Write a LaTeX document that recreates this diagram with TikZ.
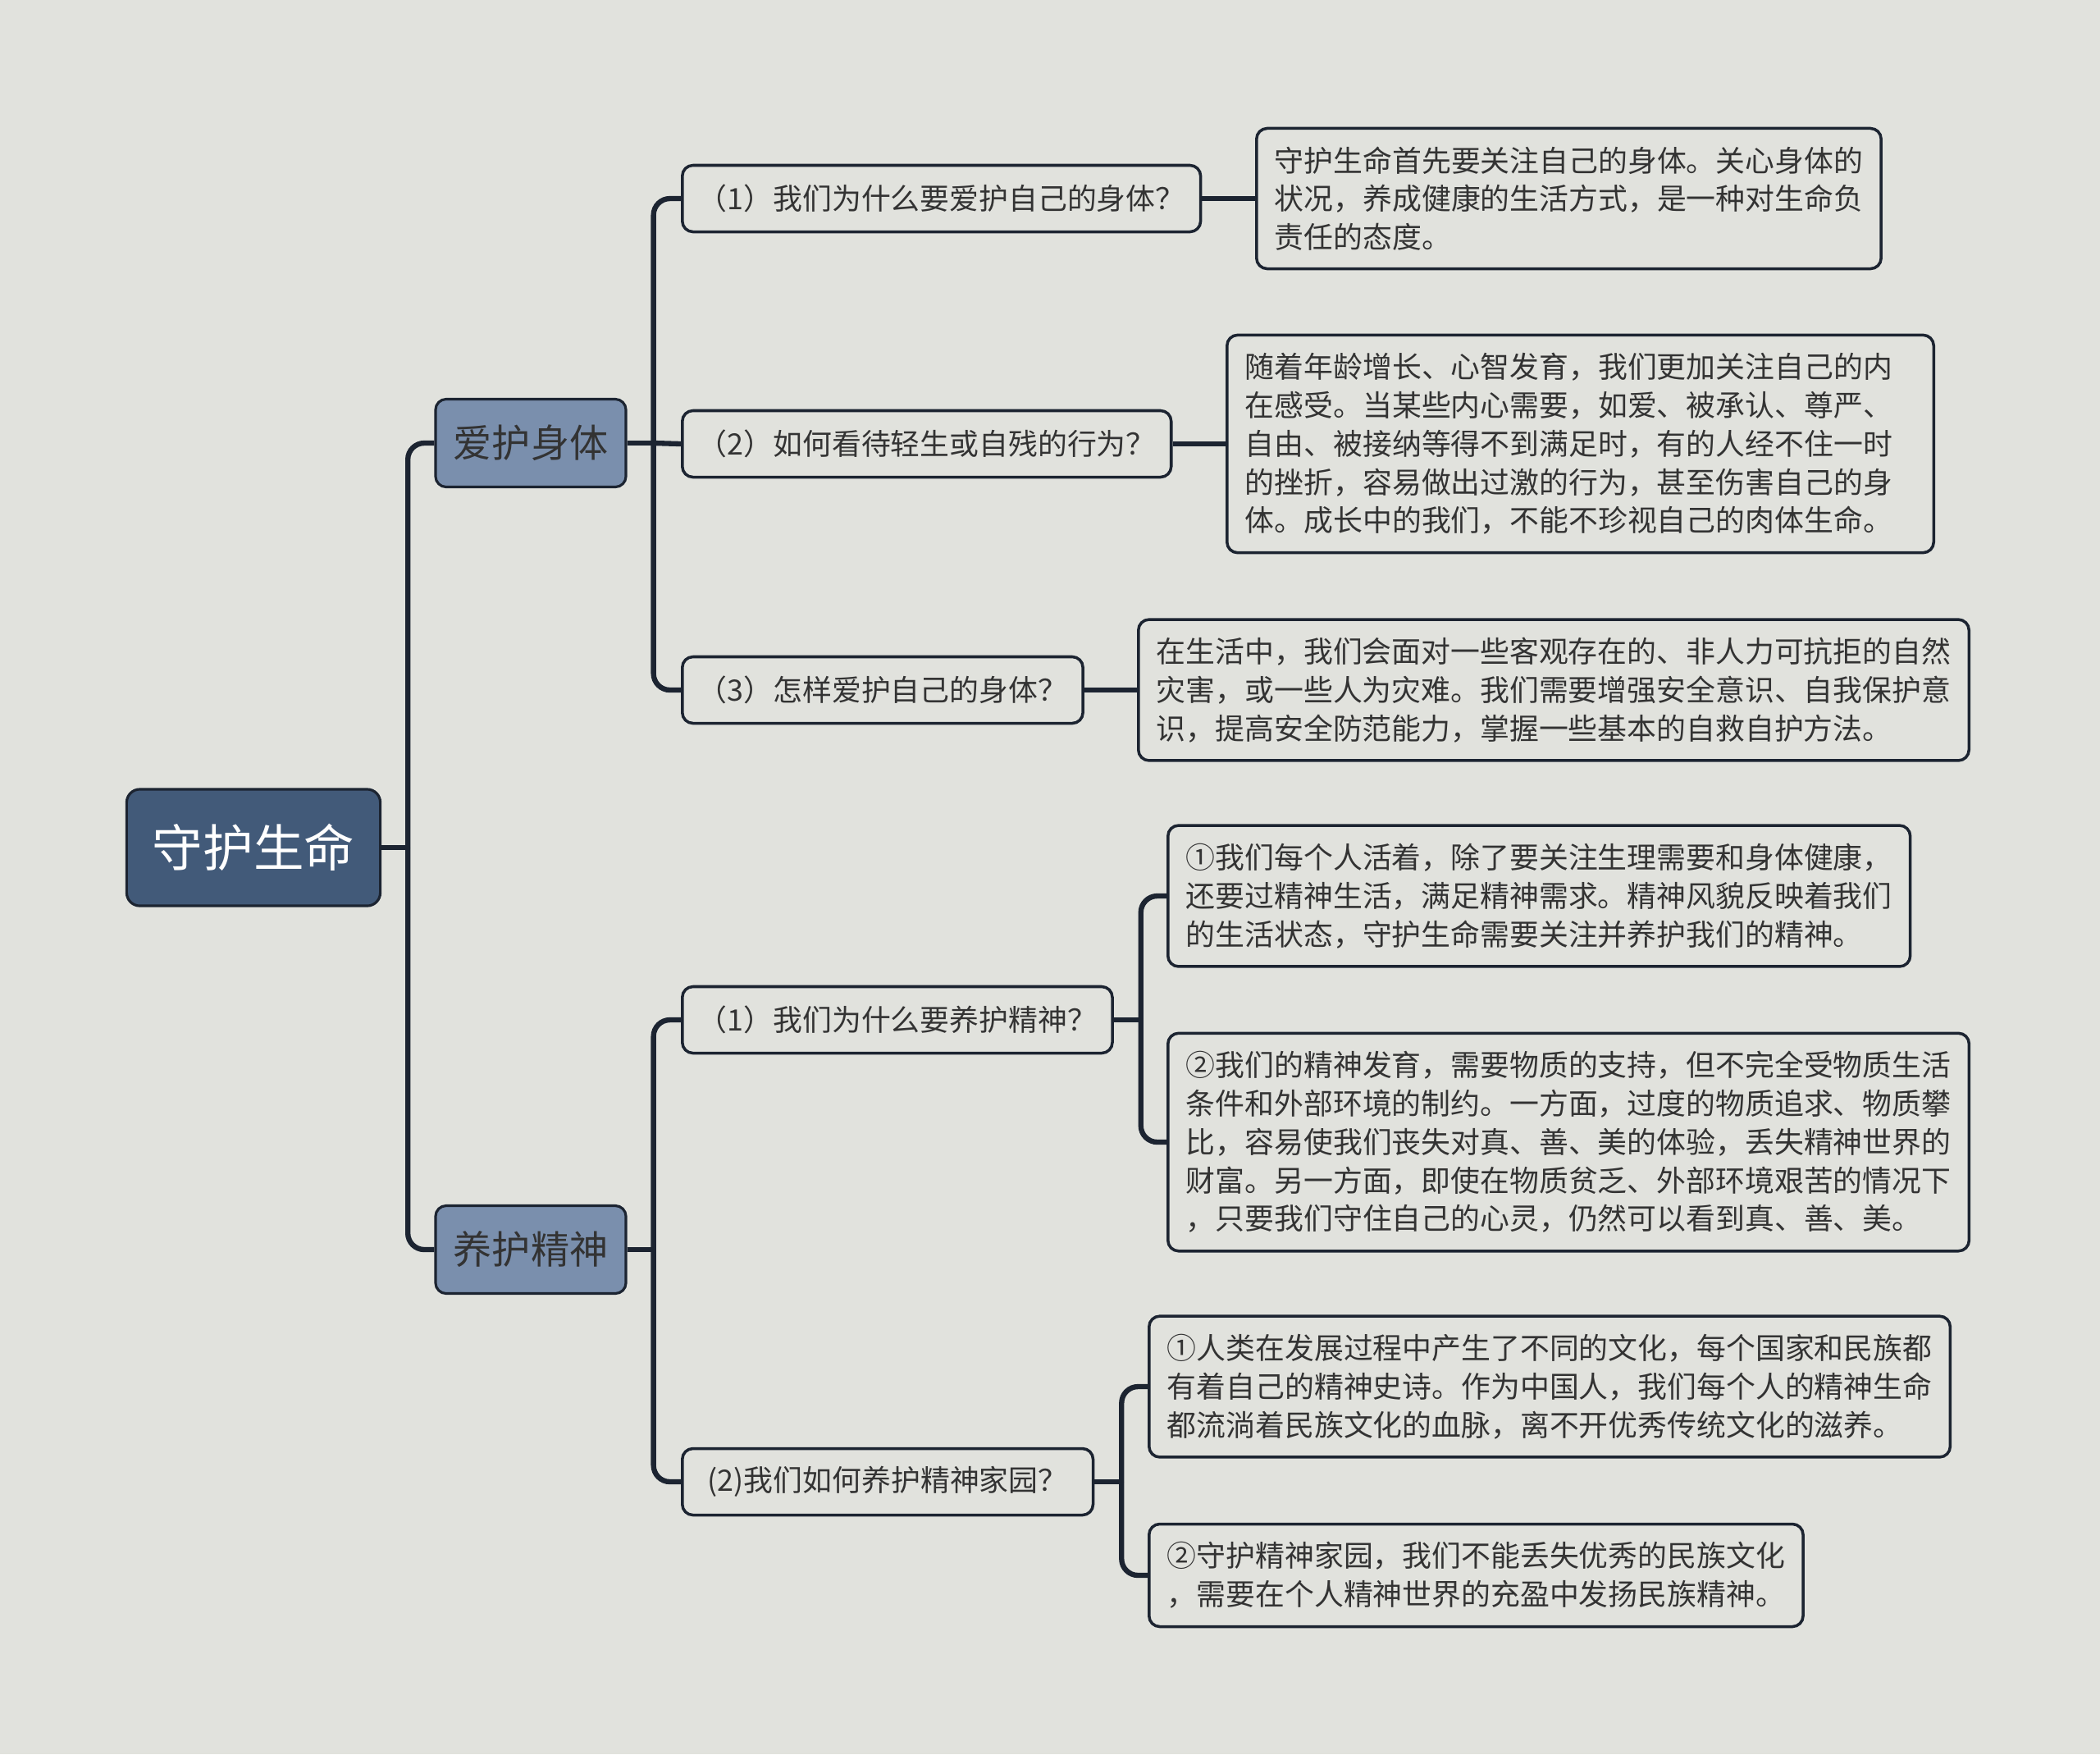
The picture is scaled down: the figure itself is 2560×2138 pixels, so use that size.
\documentclass[tikz,border=0pt]{standalone}
\usepackage{fontspec}
\newfontfamily\cjk{Noto Sans CJK SC}
\usetikzlibrary{positioning,calc}
\definecolor{bgGrey}{RGB}{225,226,221}
\definecolor{rootBlue}{RGB}{66,90,121}
\definecolor{subBlue}{RGB}{122,143,173}
\definecolor{lineNavy}{RGB}{28,36,49}
\definecolor{textGrey}{RGB}{51,51,51}

\begin{document}
\begin{tikzpicture}[x=0.01cm, y=-0.01cm,
    base/.style={rectangle, rounded corners=0.13cm, draw=lineNavy, font=\cjk},
    rootbox/.style={base, fill=rootBlue, text=white, line width=0.9pt,
        rounded corners=0.16cm, minimum width=3.09cm, minimum height=1.42cm,
        font=\cjk\fontsize{17.5pt}{20pt}\selectfont},
    topic/.style={base, fill=subBlue, text=textGrey, line width=0.9pt,
        minimum width=2.32cm, minimum height=1.07cm,
        font=\cjk\fontsize{13.4pt}{16pt}\selectfont},
    ques/.style={base, fill=bgGrey, text=textGrey, line width=1pt, anchor=west,
        minimum height=0.81cm, inner xsep=0.19cm,
        font=\cjk\fontsize{10.2pt}{13.3pt}\selectfont},
    ans/.style={ques, align=left, inner xsep=0.22cm, inner ysep=0.22cm,
        minimum height=0pt},
    link/.style={lineNavy, line width=1.8pt, rounded corners=0.2cm}]

    \useasboundingbox (0,0) rectangle (2560,2138);
    \fill[bgGrey] (0,0) rectangle (2560,2138);

    % Root and topics
    \node[rootbox] (root) at (309,1033) {守护生命};
    \node[topic] (body)   at (647,540)  {爱护身体};
    \node[topic] (spirit) at (647,1523) {养护精神};

    % Questions
    \node[ques] (q1) at (830,242)  {（1）我们为什么要爱护自己的身体？};
    \node[ques] (q2) at (830,541)  {（2）如何看待轻生或自残的行为？};
    \node[ques] (q3) at (830,841)  {（3）怎样爱护自己的身体？};
    \node[ques] (q4) at (830,1243) {（1）我们为什么要养护精神？};
    \node[ques, inner xsep=0.31cm] (q5) at (830,1806) {(2)我们如何养护精神家园？};

    % Answers
    \node[ans] (a1) at (1530,242) {守护生命首先要关注自己的身体。关心身体的\\状况，养成健康的生活方式，是一种对生命负\\责任的态度。};
    \node[ans, text width=8.17cm] (a2) at (1494,541) {随着年龄增长、心智发育，我们更加关注自己的内\\在感受。当某些内心需要，如爱、被承认、尊严、\\自由、被接纳等得不到满足时，有的人经不住一时\\的挫折，容易做出过激的行为，甚至伤害自己的身\\体。成长中的我们，不能不珍视自己的肉体生命。};
    \node[ans] (a3) at (1386,841) {在生活中，我们会面对一些客观存在的、非人力可抗拒的自然\\灾害，或一些人为灾难。我们需要增强安全意识、自我保护意\\识，提高安全防范能力，掌握一些基本的自救自护方法。};
    \node[ans] (a4) at (1422,1092) {①我们每个人活着，除了要关注生理需要和身体健康，\\还要过精神生活，满足精神需求。精神风貌反映着我们\\的生活状态，守护生命需要关注并养护我们的精神。};
    \node[ans] (a5) at (1422,1392) {②我们的精神发育，需要物质的支持，但不完全受物质生活\\条件和外部环境的制约。一方面，过度的物质追求、物质攀\\比，容易使我们丧失对真、善、美的体验，丢失精神世界的\\财富。另一方面，即使在物质贫乏、外部环境艰苦的情况下\\，只要我们守住自己的心灵，仍然可以看到真、善、美。};
    \node[ans] (a6) at (1399,1690) {①人类在发展过程中产生了不同的文化，每个国家和民族都\\有着自己的精神史诗。作为中国人，我们每个人的精神生命\\都流淌着民族文化的血脉，离不开优秀传统文化的滋养。};
    \node[ans] (a7) at (1399,1920) {②守护精神家园，我们不能丢失优秀的民族文化\\，需要在个人精神世界的充盈中发扬民族精神。};

    % Links
    \draw[link] (root.east) -- ++(32,0) coordinate (t0);
    \draw[link] (t0) |- (body.west);
    \draw[link] (t0) |- (spirit.west);

    \draw[link] (body.east) -- ++(32,0) coordinate (t1);
    \draw[link] (t1) |- (q1.west);
    \draw[link] (t1) -- (q2.west);
    \draw[link] (t1) |- (q3.west);

    \draw[link] (spirit.east) -- ++(32,0) coordinate (t2);
    \draw[link] (t2) |- (q4.west);
    \draw[link] (t2) |- (q5.west);

    \draw[link] (q1) -- (a1);
    \draw[link] (q2) -- (a2);
    \draw[link] (q3) -- (a3);

    \draw[link] (q4.east) -- ++(33,0) coordinate (t3);
    \draw[link] (t3) |- (a4.west);
    \draw[link] (t3) |- (a5.west);

    \draw[link] (q5.east) -- ++(33,0) coordinate (t4);
    \draw[link] (t4) |- (a6.west);
    \draw[link] (t4) |- (a7.west);
\end{tikzpicture}
\end{document}
